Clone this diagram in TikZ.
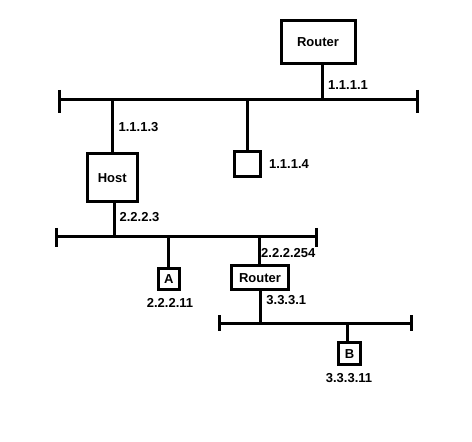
\documentclass[tikz,border=0pt]{standalone}
\usepackage{fontspec}
\setmainfont{Liberation Sans}
\begin{document}
\begin{tikzpicture}[line join=miter,x=0.75pt,y=-0.75pt,line width=2.25pt,
	box/.style={draw,line width=2.25pt,inner sep=0pt,font=\fontsize{9.75}{11}\selectfont\bfseries},
	addr/.style={inner sep=0pt,font=\fontsize{9.75}{11}\selectfont\bfseries}]
		\useasboundingbox (0,0) rectangle (472,442);
		% boxes
		\node [box,minimum width=55.5pt,minimum height=32.25pt] (router1) at (318,42.5) {Router};
		\node [box,minimum width=37.5pt,minimum height=36pt] (host) at (112.3,178) {Host};
		\node [box,minimum width=19.5pt,minimum height=18.75pt] (pc) at (247,164) {};
		\node [box,minimum width=15.75pt,minimum height=15.75pt] (a) at (168.8,278.7) {A};
		\node [box,minimum width=42.5pt,minimum height=18.25pt] (router2) at (260,277.8) {Router};
		\node [box,minimum width=16.5pt,minimum height=16.5pt] (b) at (349.5,354) {B};
		% buses
		\coordinate (bus1l) at (59.3,100);
		\coordinate (bus1r) at (417.7,100);
		\coordinate (bus2l) at (56,237);
		\coordinate (bus2r) at (316.7,237);
		\coordinate (bus3l) at (219.3,323.3);
		\coordinate (bus3r) at (411,323.3);
		\draw (bus1l)-- (bus1r);
		\draw ([yshift=7.5pt]bus1l)-- ([yshift=-9.75pt]bus1l);
		\draw ([yshift=7.5pt]bus1r)-- ([yshift=-9.75pt]bus1r);
		\draw (bus2l)-- (bus2r);
		\draw ([yshift=6.75pt]bus2l)-- ([yshift=-7.25pt]bus2l);
		\draw ([yshift=6.75pt]bus2r)-- ([yshift=-7.25pt]bus2r);
		\draw (bus3l)-- (bus3r);
		\draw ([yshift=6pt]bus3l)-- ([yshift=-6pt]bus3l);
		\draw ([yshift=6pt]bus3r)-- ([yshift=-6pt]bus3r);
		% links
		\draw ([xshift=3.5pt]router1.south)-- ([xshift=3.5pt]router1.south |- bus1l);
		\draw (host.north)-- (host.north |- bus1l);
		\draw (pc.north)-- (pc.north |- bus1l);
		\draw ([xshift=2pt]host.south)-- ([xshift=2pt]host.south |- bus2l);
		\draw (a.north)-- (a.north |- bus2l);
		\draw ([xshift=-0.75pt]router2.north)-- ([xshift=-0.75pt]router2.north |- bus2l);
		\draw (router2.south)-- (router2.south |- bus3l);
		\draw ([xshift=-1.5pt]b.north)-- ([xshift=-1.5pt]b.north |- bus3l);
		% addresses
		\node [addr] (l1) at (348,85) {1.1.1.1};
		\node [addr] (l3) at (138.5,126.7) {1.1.1.3};
		\node [addr] (l4) at (289,164) {1.1.1.4};
		\node [addr] (l23) at (139.5,217) {2.2.2.3};
		\node [addr] (l211) at (170,303) {2.2.2.11};
		\node [addr] (l254) at (288.3,253) {2.2.2.254};
		\node [addr] (l31) at (286.3,300) {3.3.3.1};
		\node [addr] (l311) at (349,378) {3.3.3.11};
		\end{tikzpicture}
\end{document}
